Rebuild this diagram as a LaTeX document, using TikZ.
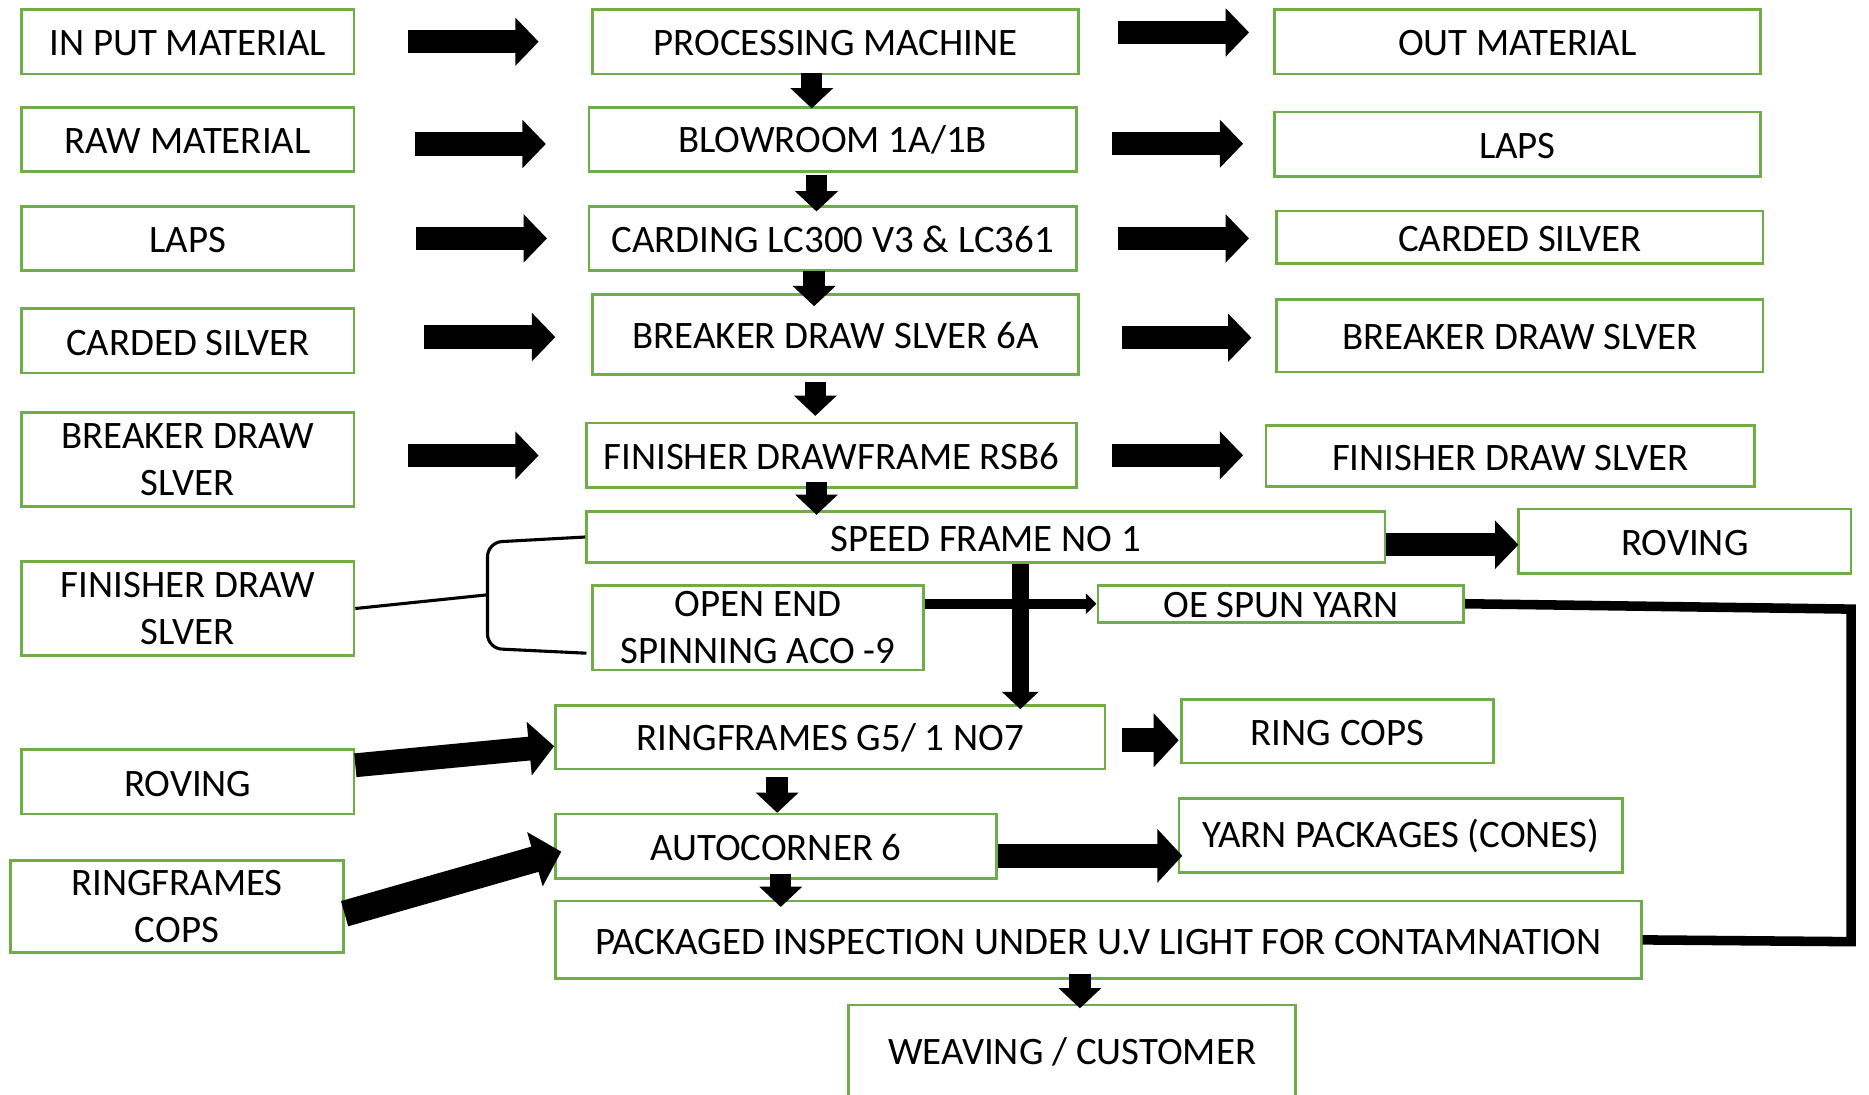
\documentclass[tikz,border=0pt]{standalone}
\usepackage{fontspec}
\setmainfont{Carlito}
\usetikzlibrary{arrows.meta}
\definecolor{boxgreen}{RGB}{112,173,71}
\tikzset{
  box2/.style={draw=boxgreen, line width=1.1pt, inner sep=0pt, align=center,
    font=\fontsize{16.3}{19.5}\selectfont},
  box/.style={box2, text height=12pt},
  harrow/.style={line width=9.8pt, -{Triangle[length=9.8pt,width=19.7pt]}},
  bigarrow/.style={line width=10pt, -{Triangle[length=10.5pt,width=22pt]}},
  varrow/.style={line width=9pt, -{Triangle[length=8.5pt,width=17.5pt]}},
  thinarrow/.style={line width=4.2pt, -{Triangle[length=4.5pt,width=8.5pt]}},
  bracket/.style={line width=1.3pt},
}
\begin{document}
\begin{tikzpicture}[x=0.5pt,y=-0.5pt]
\useasboundingbox (0,0) rectangle (1568,918);
\clip (0,0) rectangle (1568,918);
% left column
\node[box, minimum width=139.5pt, minimum height=27pt] (in) at (157.5,35) {IN PUT MATERIAL};
\node[box, minimum width=139.5pt, minimum height=27pt] (raw) at (157.5,117) {RAW MATERIAL};
\node[box, minimum width=139.5pt, minimum height=27pt] (laps) at (157.5,200) {LAPS};
\node[box, minimum width=139.5pt, minimum height=27pt] (cs) at (157.5,286) {CARDED SILVER};
\node[box2, minimum width=139.5pt, minimum height=39.5pt] (bds) at (157.5,385.5) {BREAKER DRAW\\SLVER};
\node[box2, minimum width=139.5pt, minimum height=39.5pt] (fds) at (157.5,510.5) {FINISHER DRAW\\SLVER};
\node[box, minimum width=139.5pt, minimum height=27pt] (lrov) at (157.5,656) {ROVING};
\node[box2, minimum width=139.5pt, minimum height=38.5pt] (rfc) at (148.5,760.5) {RINGFRAMES\\COPS};
% machines
\node[box, minimum width=204pt, minimum height=27pt] (proc) at (701,35) {PROCESSING MACHINE};
\node[box, minimum width=204.5pt, minimum height=27pt] (blow) at (698.5,117) {BLOWROOM 1A/1B};
\node[box, minimum width=204.5pt, minimum height=27pt] (card) at (698.5,200) {CARDING LC300 V3 \& LC361};
\node[box, minimum width=204pt, minimum height=33.5pt] (brk) at (701,280.5) {BREAKER DRAW SLVER 6A};
\node[box, minimum width=205.5pt, minimum height=27pt] (fin) at (697.5,382) {FINISHER DRAWFRAME RSB6};
\node[box, minimum width=335pt, minimum height=21.5pt] (spd) at (827,450.5) {SPEED FRAME NO 1};
\node[box2, minimum width=139pt, minimum height=35.5pt] (oe) at (636,526.5) {OPEN END\\SPINNING ACO -9};
\node[box, minimum width=153.5pt, minimum height=15.5pt] (oey) at (1074.5,506.5) {OE SPUN YARN};
\node[box, minimum width=230.5pt, minimum height=26.5pt] (ring) at (696.5,618.5) {RINGFRAMES G5/ 1 NO7};
\node[box, minimum width=185pt, minimum height=27pt] (auto) at (651,710) {AUTOCORNER 6};
\node[box, minimum width=455.5pt, minimum height=32.5pt] (pkg) at (921.5,788.5) {PACKAGED INSPECTION UNDER U.V LIGHT FOR CONTAMNATION};
\node[box, minimum width=187.5pt, minimum height=39pt] (weave) at (899.5,882) {WEAVING / CUSTOMER};
% right column
\node[box, minimum width=204pt, minimum height=27pt] (out) at (1273,35) {OUT MATERIAL};
\node[box, minimum width=204pt, minimum height=27pt] (rlaps) at (1273,121) {LAPS};
\node[box, minimum width=204pt, minimum height=22pt] (rcs) at (1275,199) {CARDED SILVER};
\node[box, minimum width=204pt, minimum height=30.5pt] (rbds) at (1275,281.5) {BREAKER DRAW SLVER};
\node[box, minimum width=205pt, minimum height=25.5pt] (rfds) at (1267,382.5) {FINISHER DRAW SLVER};
\node[box, minimum width=139.5pt, minimum height=27pt] (rrov) at (1413.5,454) {ROVING};
\node[box, minimum width=131pt, minimum height=26.5pt] (rc) at (1122,613.5) {RING COPS};
\node[box, minimum width=186pt, minimum height=31pt] (yp) at (1175,701) {YARN PACKAGES (CONES)};
% arrows across
\draw[harrow, shorten <=22pt, shorten >=22pt] (in.east) -- (proc.west);
\draw[harrow, shorten <=16pt, shorten >=10pt] ([yshift=3.9pt]proc.east) -- ([yshift=3.9pt]out.west);
\draw[harrow, shorten <=25pt, shorten >=17.5pt] ([yshift=-1.9pt]raw.east) -- ([yshift=-1.9pt]blow.west);
\draw[harrow, shorten <=14.5pt, shorten >=12.5pt] ([yshift=-1.8pt]blow.east) -- ([yshift=-1.8pt]blow.east -| rlaps.west);
\draw[harrow, shorten <=25.5pt, shorten >=17pt] (laps.east) -- (card.west);
\draw[harrow, shorten <=17pt, shorten >=11pt] (card.east) -- (card.east -| rcs.west);
\draw[harrow, shorten <=29pt, shorten >=15pt] ([yshift=1.6pt]cs.east) -- ([yshift=1.6pt]cs.east -| brk.west);
\draw[harrow, shorten <=17.5pt, shorten >=10pt] ([yshift=-1.4pt]brk.east) -- ([yshift=-1.4pt]brk.east -| rbds.west);
\draw[harrow, shorten <=22pt, shorten >=19.5pt] ([yshift=1.7pt]bds.east) -- ([yshift=1.7pt]bds.east -| fin.west);
\draw[harrow, shorten <=14.5pt, shorten >=9pt] (fin.east) -- (fin.east -| rfds.west);
\draw[harrow, shorten >=-0.5pt] ([yshift=-3.25pt]spd.east) -- ([yshift=-3.25pt]spd.east -| rrov.west);
\draw[thinarrow] ([yshift=10pt]oe.east) -- ([yshift=10pt]oe.east -| oey.west);
\draw[bigarrow, shorten <=6.5pt, shorten >=0.5pt] ([yshift=-1.25pt]ring.east) -- ([yshift=-1.25pt]ring.east -| rc.west);
\draw[bigarrow, shorten >=-2pt] ([yshift=-4pt]auto.east) -- ([yshift=-4pt]auto.east -| yp.west);
\draw[bigarrow] ([yshift=7pt]lrov.east) -- ([yshift=-3.75pt]ring.west);
\draw[line width=11pt, -{Triangle[length=11.5pt,width=23pt]}] ([yshift=-3pt]rfc.east) -- ([shift={(3pt,-2.25pt)}]auto.west);
% arrows down
\draw[varrow, shorten <=-1pt, shorten >=-1pt] ([xshift=-10pt]proc.south) -- ([xshift=-10pt]proc.south |- blow.north);
\draw[varrow, shorten <=1pt, shorten >=-2.75pt] ([xshift=-6.75pt]blow.south) -- ([xshift=-6.75pt]blow.south |- card.north);
\draw[varrow, shorten <=-0.5pt, shorten >=-5.5pt] ([xshift=-7.75pt]card.south) -- ([xshift=-7.75pt]card.south |- brk.north);
\draw[varrow, shorten <=2.5pt, shorten >=2.5pt] ([xshift=-8.5pt]brk.south) -- ([xshift=-8.5pt]brk.south |- fin.north);
\draw[varrow, shorten <=-3pt, shorten >=-2pt] ([xshift=-6.25pt]fin.south) -- ([xshift=-6.25pt]fin.south |- spd.north);
\draw[line width=7.25pt, -{Triangle[length=7.25pt,width=15pt]}, shorten >=-2pt] ([xshift=14.5pt]spd.south) -- ([xshift=14.5pt]spd.south |- ring.north);
\draw[varrow, shorten <=3pt] ([xshift=-22.25pt]ring.south) -- ([xshift=-22.25pt]ring.south |- auto.north);
\draw[varrow, shorten <=-2.5pt, shorten >=-3pt] ([xshift=2pt]auto.south) -- ([xshift=2pt]auto.south |- pkg.north);
\draw[varrow, shorten <=-2.5pt, shorten >=-2pt] ([xshift=-7.75pt]pkg.south) -- ([xshift=-7.75pt]pkg.south |- weave.north);
% bracket and return line
\coordinate (oelow) at (492,548);
\draw[bracket] (fds.east) -- (409,499);
\draw[bracket, rounded corners=6pt] (spd.west) -- (409,455) -- (409,544) -- (oelow);
\draw[line width=4pt] (oey.east) -- (1553,511) -- (1553,790) -- (pkg.east);
\end{tikzpicture}
\end{document}
